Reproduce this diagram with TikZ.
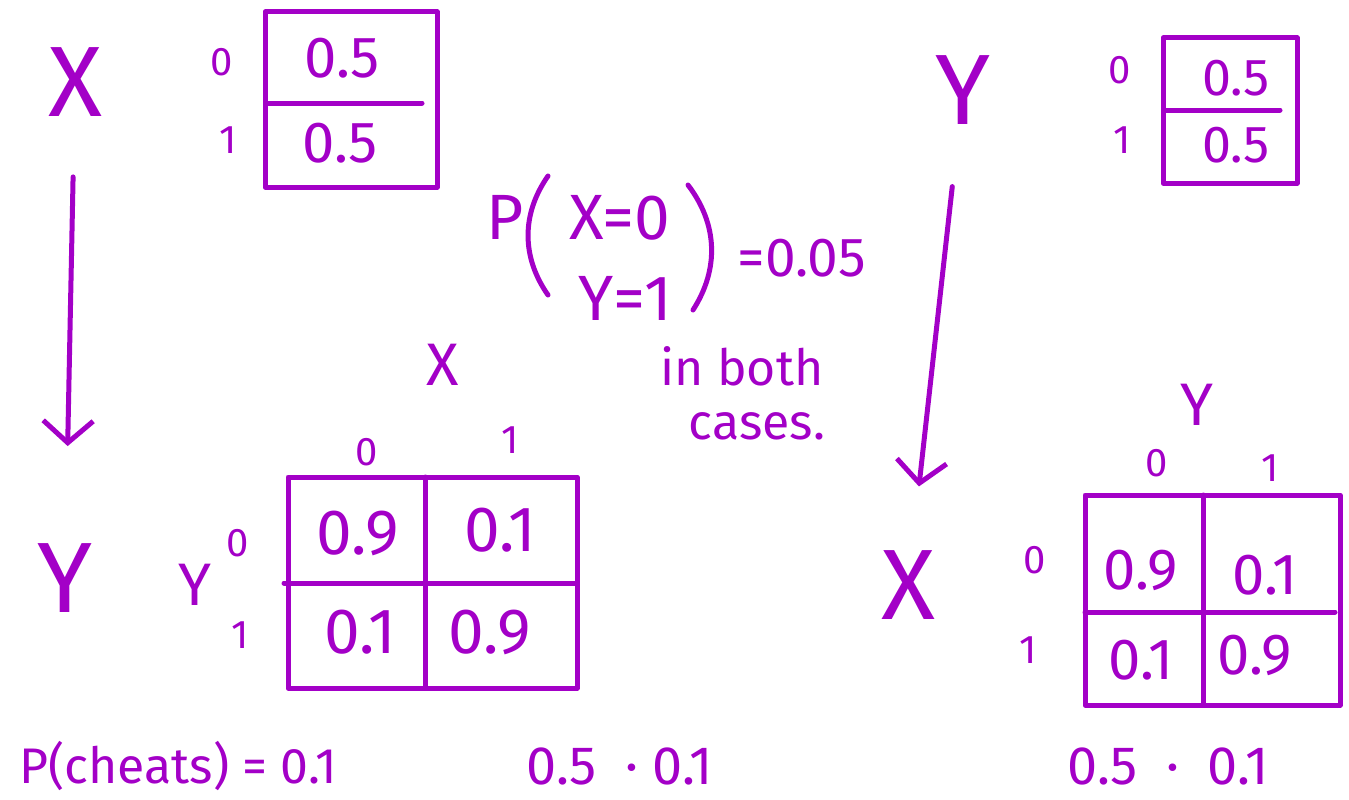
\documentclass[tikz,border=0pt]{standalone}
\usepackage{fontspec}
\setmainfont{Fira Sans}
\usetikzlibrary{arrows.meta}
\definecolor{ink}{RGB}{163,0,199}
\newcommand{\fsz}[1]{\fontsize{#1}{#1}\selectfont}
\begin{document}
\begin{tikzpicture}[x=1pt,y=-1pt, color=ink, line width=5pt,
  line cap=round, line join=round,
  every node/.style={inner sep=0pt},
  bigvar/.style={font=\fsz{100}},
  axisvar/.style={font=\fsz{60}},
  idx/.style={font=\fsz{40}},
  arr/.style={-{Straight Barb[length=22pt,width=50pt]}}]
 \useasboundingbox (0,0) rectangle (1349,800);
 % left case: X -> Y
 \node[bigvar] (xa) at (75,82) {X};
 \node[bigvar] (ya) at (65,578) {Y};
 \draw[arr, shorten <=58pt, shorten >=95pt] (xa) -- (ya);
 % prior of X
 \draw (265,12) rectangle (437,187);
 \draw (268,103) -- (422,103);
 \node[idx] (xa0) at (222,62) {0};
 \node[idx] (xa1) at (228,140) {1};
 \node[font=\fsz{58}] (pa0) at (342,58) {0.5};
 \node[font=\fsz{58}] (pa1) at (340,143) {0.5};
 % Y given X
 \node[axisvar] (ca) at (443,365) {X};
 \node[idx] (ca0) at (367,452) {0};
 \node[idx] (ca1) at (510,440) {1};
 \node[axisvar] (ra) at (195,585) {Y};
 \node[idx] (ra0) at (238,543) {0};
 \node[idx] (ra1) at (240,635) {1};
 \draw (288,477) rectangle (577,688);
 \draw (425,477) -- (425,688);
 \draw (284,583) -- (577,583);
 \node[font=\fsz{64}] (qa00) at (358,533) {0.9};
 \node[font=\fsz{64}] (qa01) at (500,530) {0.1};
 \node[font=\fsz{64}] (qa10) at (360,632) {0.1};
 \node[font=\fsz{64}] (qa11) at (490,632) {0.9};
 % right case: Y -> X
 \node[bigvar] (yb) at (963,90) {Y};
 \node[bigvar] (xb) at (908,585) {X};
 \draw[arr, shorten <=60pt, shorten >=62pt] (yb) -- (xb);
 % prior of Y
 \draw (1163,38) rectangle (1297,183);
 \draw (1166,110) -- (1280,110);
 \node[idx] (yb0) at (1120,70) {0};
 \node[idx] (yb1) at (1122,140) {1};
 \node[font=\fsz{52}] (pb0) at (1236,78) {0.5};
 \node[font=\fsz{52}] (pb1) at (1236,145) {0.5};
 % X given Y
 \node[axisvar] (cb) at (1197,405) {Y};
 \node[idx] (cb0) at (1157,463) {0};
 \node[idx] (cb1) at (1270,468) {1};
 \node[idx] (rb0) at (1035,560) {0};
 \node[idx] (rb1) at (1028,650) {1};
 \draw (1085,495) rectangle (1340,705);
 \draw (1203,495) -- (1203,705);
 \draw (1085,612) -- (1335,612);
 \node[font=\fsz{58}] (qb00) at (1141,570) {0.9};
 \node[font=\fsz{58}] (qb01) at (1265,575) {0.1};
 \node[font=\fsz{58}] (qb10) at (1141,660) {0.1};
 \node[font=\fsz{58}] (qb11) at (1255,655) {0.9};
 % joint probability, middle
 \node[font=\fsz{64}] (pj) at (505,217) {P};
 \draw (548,176) to[bend right=35] (548,295);
 \node[font=\fsz{64}] (jx) at (620,218) {X=0};
 \node[font=\fsz{64}] (jy) at (625,298) {Y=1};
 \draw (688,185) to[bend left=35] (693,310);
 \node[font=\fsz{55}] (jv) at (802,258) {=0.05};
 \node[font=\fsz{50}] (both) at (742,366) {in both};
 \node[font=\fsz{50}] (cases) at (757,426) {cases.};
 % bottom line
 \node[font=\fsz{50}] (pc) at (178,766) {P(cheats) = 0.1};
 \node[font=\fsz{54}] (prda) at (620,766) {0.5 \ · 0.1};
 \node[font=\fsz{54}] (prdb) at (1168,766) {0.5 \ · \ 0.1};
\end{tikzpicture}
\end{document}
